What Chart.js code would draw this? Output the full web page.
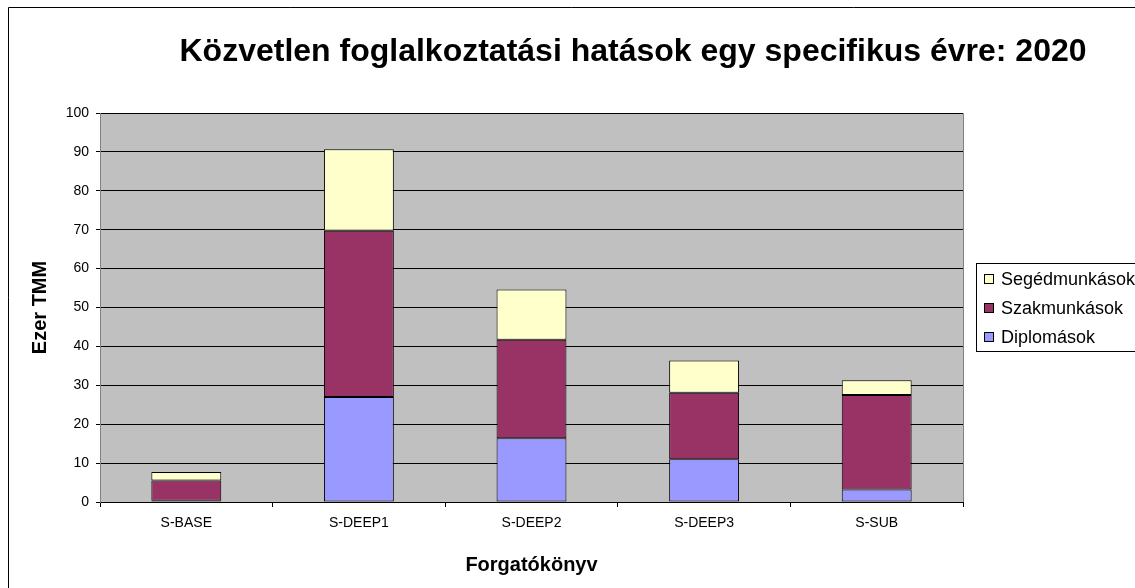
<!DOCTYPE html>
<html lang="hu">
<head>
<meta charset="utf-8">
<title>Közvetlen foglalkoztatási hatások</title>
<script src="https://cdn.jsdelivr.net/npm/chart.js@4.4.1/dist/chart.umd.min.js"></script>
<style>
	html, body { margin: 0; padding: 0; background: #ffffff; }
	#chartWrap { width: 1135px; height: 588px; position: relative; }
</style>
</head>
<body>
<div id="chartWrap"><canvas id="jobsChart" width="1135" height="588"></canvas></div>
<script>
( function () {
	'use strict';

	// values (thousand persons)
	const scenarios     = [ 'S-BASE', 'S-DEEP1', 'S-DEEP2', 'S-DEEP3', 'S-SUB' ];
	const diplomasok    = [ 0.3, 27.0, 16.4, 11.0, 3.2 ];
	const szakmunkasok  = [ 5.2, 42.7, 25.3, 17.1, 24.3 ];
	const segedmunkasok = [ 2.2, 21.0, 12.9, 8.3, 3.8 ];
	const yTicks        = [ 0, 10, 20, 30, 40, 50, 60, 70, 80, 90, 100 ];

	const chartTitle = 'Közvetlen foglalkoztatási hatások egy specifikus évre: 2020';
	const FONT       = "Arial, 'Liberation Sans', sans-serif";

	const colors = {
		diplo: '#9999FF',
		szak:  '#993366',
		seged: '#FFFFCC',
		plot:  '#C0C0C0',
	};

	// white page, frame, grey plot background
	const backdrop = {
		id: 'backdrop',
		beforeDraw: function ( chart ) {
			const ctx  = chart.ctx;
			const area = chart.chartArea;
			ctx.save();
			ctx.fillStyle = '#ffffff';
			ctx.fillRect( 0, 0, chart.width, chart.height );

			ctx.strokeStyle = '#000000';
			ctx.lineWidth   = 1;
			ctx.beginPath();
			ctx.moveTo( 8.5, chart.height );
			ctx.lineTo( 8.5, 7.5 );
			ctx.lineTo( chart.width, 7.5 );
			ctx.stroke();

			ctx.fillStyle = colors.plot;
			ctx.fillRect( area.left, area.top, area.right - area.left, area.bottom - area.top );
			ctx.strokeStyle = '#808080';
			ctx.beginPath();
			ctx.moveTo( Math.round( area.left ) + 0.5, Math.round( area.top ) + 0.5 );
			ctx.lineTo( Math.round( area.right ) + 0.5, Math.round( area.top ) + 0.5 );
			ctx.lineTo( Math.round( area.right ) + 0.5, Math.round( area.bottom ) );
			ctx.stroke();
			ctx.restore();
		},
	};

	// title and boxed legend (reverse order, like the source)
	const overlay = {
		id: 'overlay',
		afterDraw: function ( chart ) {
			const ctx = chart.ctx;
			ctx.save();
			ctx.fillStyle    = '#000000';
			ctx.font         = 'bold 32px ' + FONT;
			ctx.textAlign    = 'center';
			ctx.textBaseline = 'alphabetic';
			ctx.fillText( chartTitle, 633, 61 );

			const boxX = 976, boxY = 263, boxH = 88;
			ctx.fillStyle   = '#ffffff';
			ctx.fillRect( boxX, boxY, chart.width - boxX, boxH );
			ctx.strokeStyle = '#000000';
			ctx.lineWidth   = 1;
			ctx.strokeRect( boxX + 0.5, boxY + 0.5, chart.width, boxH );

			const sets = chart.data.datasets.slice().reverse();
			ctx.font         = '18px ' + FONT;
			ctx.textAlign    = 'left';
			ctx.textBaseline = 'middle';
			sets.forEach( function ( ds, i ) {
				const cy = 279 + i * 29;
				ctx.fillStyle = ds.backgroundColor;
				ctx.fillRect( 984, cy - 5, 10, 10 );
				ctx.strokeRect( 984.5, cy - 4.5, 9, 9 );
				ctx.fillStyle = '#000000';
				ctx.fillText( ds.label, 1001, cy + 1 );
			} );
			ctx.restore();
		},
	};

	function barSet( label, data, color ) {
		return {
			label:              label,
			data:               data,
			backgroundColor:    color,
			borderColor:        '#000000',
			borderWidth:        1,
			borderSkipped:      false,
			barPercentage:      0.405,
			categoryPercentage: 1,
		};
	}

	new Chart( document.getElementById( 'jobsChart' ), {
		type: 'bar',
		data: {
			labels:   scenarios,
			datasets: [
				barSet( 'Diplomások', diplomasok, colors.diplo ),
				barSet( 'Szakmunkások', szakmunkasok, colors.szak ),
				barSet( 'Segédmunkások', segedmunkasok, colors.seged ),
			],
		},
		options: {
			responsive: false,
			animation:  false,
			layout:     { padding: { left: 0, top: 113, right: 172, bottom: 0 } },
			plugins: {
				legend:  { display: false },
				title:   { display: false },
				tooltip: { enabled: false },
			},
			scales: {
				x: {
					stacked: true,
					grid: {
						offset:          true,
						drawOnChartArea: false,
						color:           '#000000',
						tickLength:      5,
					},
					border: { color: '#000000' },
					ticks: {
						color:       '#000000',
						font:        { family: FONT, size: 14 },
						padding:     8,
						maxRotation: 0,
					},
					title: {
						display: true,
						text:    'Forgatókönyv',
						color:   '#000000',
						font:    { family: FONT, size: 20, weight: 'bold' },
						padding: { top: 0, bottom: 11 },
					},
					afterFit: function ( scale ) { scale.height = 86; },
				},
				y: {
					stacked: true,
					min:     0,
					max:     100,
					afterBuildTicks: function ( scale ) {
						scale.ticks = yTicks.map( function ( v ) { return { value: v }; } );
					},
					grid: {
						color:      '#000000',
						tickLength: 4,
					},
					border: { color: '#808080' },
					ticks: {
						color:   '#000000',
						font:    { family: FONT, size: 14 },
						padding: 7,
					},
					title: {
						display: true,
						text:    'Ezer TMM',
						color:   '#000000',
						font:    { family: FONT, size: 20, weight: 'bold' },
						padding: { top: 28, bottom: 0 },
					},
					afterFit: function ( scale ) { scale.width = 100; },
				},
			},
		},
		plugins: [ backdrop, overlay ],
	} );
} )();
</script>
</body>
</html>
